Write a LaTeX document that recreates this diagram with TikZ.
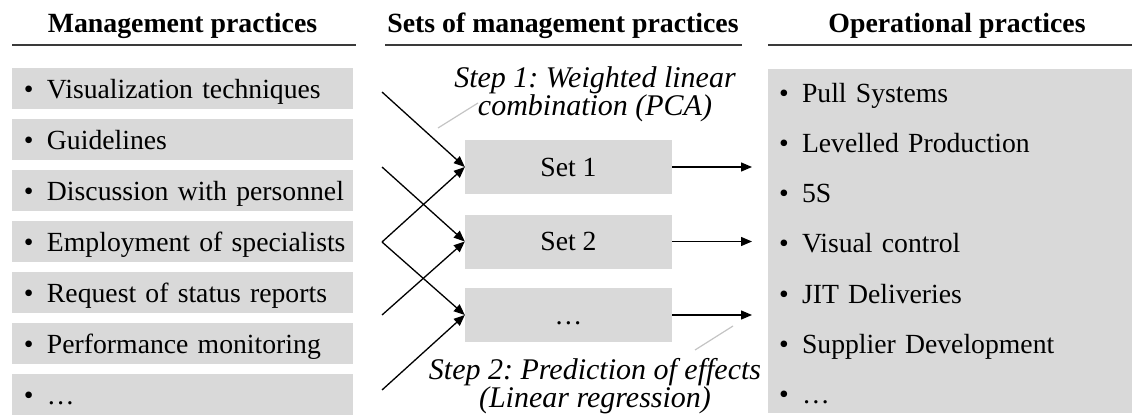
\documentclass[tikz,border=0pt]{standalone}
\usepackage{fontspec}
\setmainfont{Liberation Serif}
\usetikzlibrary{arrows.meta}
\definecolor{boxgrey}{HTML}{D9D9D9}
\definecolor{leadgrey}{HTML}{C4C4C4}
\definecolor{rulegrey}{HTML}{3A3A3A}
\frenchspacing
\newcommand\mpitem{\hspace*{9pt}\makebox[23pt][l]{\textbullet}}
\newcommand\opitem{\hspace*{8pt}\makebox[23pt][l]{\textbullet}}
\begin{document}
\begin{tikzpicture}[x=1pt,y=-1pt,
  every node/.style={font=\fontsize{27.7}{33}\selectfont},
  head/.style={font=\fontsize{27.8}{33}\selectfont\bfseries, anchor=base, inner sep=0pt},
  mbox/.style={fill=boxgrey, minimum width=341pt, minimum height=41pt,
    inner xsep=3pt, inner ysep=0pt, text width=335pt, align=left,
    text height=23pt, text depth=3pt},
  setbox/.style={fill=boxgrey, minimum width=207pt, minimum height=54pt, inner sep=0pt,
    text height=18.5pt, text depth=0pt},
  arr/.style={-{Triangle[length=11pt,width=9pt]}, line width=1.3pt},
  lead/.style={draw=leadgrey, line width=1.2pt},
  steplabel/.style={font=\fontsize{30}{28.5}\selectfont\itshape, align=center, inner sep=0pt},
  hrule/.style={draw=rulegrey, line width=1.6pt}
]
\useasboundingbox (0,0) rectangle (1132,417);

% headings
\node[head] (h1) at (182.5,33) {Management practices};
\node[head] (h2) at (563,33) {Sets of management practices};
\node[head] (h3) at (957,33) {Operational practices};
\draw[hrule] (12,45) -- (356,45);
\draw[hrule] (385,45) -- (742,45);
\draw[hrule] (768,45) -- (1132,45);

% management practices
\node[mbox] (m1) at (182.5,88.5) {\mpitem Visualization techniques};
\node[mbox] (m2) at (182.5,139.5) {\mpitem Guidelines};
\node[mbox] (m3) at (182.5,190.5) {\mpitem Discussion with personnel};
\node[mbox] (m4) at (182.5,241.5) {\mpitem Employment of specialists};
\node[mbox] (m5) at (182.5,292.5) {\mpitem Request of status reports};
\node[mbox] (m6) at (182.5,343.5) {\mpitem Performance monitoring};
\node[mbox] (m7) at (182.5,394.5) {\mpitem \dots};

% sets
\node[setbox] (s1) at (568.5,167) {Set 1};
\node[setbox] (s2) at (568.5,241.5) {Set 2};
\node[setbox] (s3) at (568.5,315) {\dots};

% operational practices
\node[fill=boxgrey, minimum width=364pt, minimum height=344pt, inner xsep=3pt, inner ysep=0pt,
  text width=358pt, align=left, font=\fontsize{27.7}{50.2}\selectfont] (op) at (950,241)
  {\rule{0pt}{24pt}\opitem Pull Systems\\
   \opitem Levelled Production\\
   \opitem 5S\\
   \opitem Visual control\\
   \opitem JIT Deliveries\\
   \opitem Supplier Development\\
   \opitem \dots};

% arrows from management practices to sets
\coordinate (a1) at (382,92);
\coordinate (a2) at (382,167);
\coordinate (a3) at (382,242);
\coordinate (a4) at (382,315);
\coordinate (a5) at (382,390);
\draw[arr] (a1) -- (s1.west);
\draw[arr] (a2) -- (s2.west);
\draw[arr] (a3) -- (s1.west);
\draw[arr] (a3) -- (s3.west);
\draw[arr] (a4) -- (s2.west);
\draw[arr] (a5) -- (s3.west);

% arrows from sets to operational practices
\coordinate (t1) at (752,167);
\coordinate (t2) at (752,241.5);
\coordinate (t3) at (752,315);
\draw[arr] (s1.east) -- (t1);
\draw[arr] (s2.east) -- (t2);
\draw[arr] (s3.east) -- (t3);

% step labels
\node[steplabel] (st1) at (595,94.5) {Step 1: Weighted linear\\combination (PCA)};
\node[steplabel] (st2) at (595,386) {Step 2: Prediction of effects\\(Linear regression)};
\coordinate (l1a) at (438,128);
\coordinate (l1b) at (478,103);
\coordinate (l2a) at (695,350);
\coordinate (l2b) at (733,326);
\draw[lead] (l1a) -- (l1b);
\draw[lead] (l2a) -- (l2b);
\end{tikzpicture}
\end{document}
